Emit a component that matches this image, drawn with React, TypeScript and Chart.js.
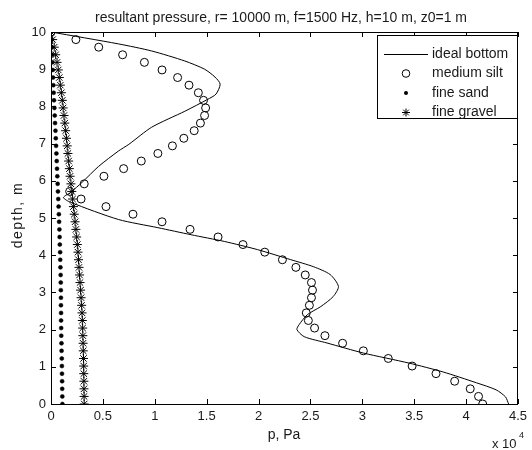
import React, { useEffect, useRef } from "react";
import { Chart, registerables } from "chart.js";

Chart.register(...registerables);

// depth, m (50 samples from 0 to 10)
const depths = [0, 0.204, 0.408, 0.612, 0.816, 1.02, 1.224, 1.429, 1.633, 1.837, 2.041, 2.245, 2.449, 2.653, 2.857, 3.061, 3.265, 3.469, 3.673, 3.878, 4.082, 4.286, 4.49, 4.694, 4.898, 5.102, 5.306, 5.51, 5.714, 5.918, 6.122, 6.327, 6.531, 6.735, 6.939, 7.143, 7.347, 7.551, 7.755, 7.959, 8.163, 8.367, 8.571, 8.776, 8.98, 9.184, 9.388, 9.592, 9.796, 10];

// pressure in units of 10^4 Pa
const siltP = [4.16, 4.12, 4.04, 3.89, 3.71, 3.48, 3.25, 3.01, 2.81, 2.64, 2.54, 2.48, 2.46, 2.49, 2.51, 2.52, 2.51, 2.45, 2.36, 2.23, 2.06, 1.85, 1.61, 1.34, 1.07, 0.79, 0.53, 0.29, 0.18, 0.32, 0.51, 0.7, 0.87, 1.03, 1.17, 1.28, 1.38, 1.44, 1.48, 1.49, 1.47, 1.42, 1.33, 1.22, 1.07, 0.9, 0.69, 0.46, 0.24, 0];

const sandP = [0.11, 0.109, 0.108, 0.107, 0.106, 0.105, 0.104, 0.102, 0.101, 0.099, 0.098, 0.097, 0.097, 0.096, 0.096, 0.095, 0.094, 0.093, 0.091, 0.089, 0.088, 0.085, 0.083, 0.081, 0.078, 0.076, 0.073, 0.07, 0.067, 0.064, 0.061, 0.058, 0.055, 0.052, 0.049, 0.046, 0.043, 0.039, 0.036, 0.033, 0.029, 0.026, 0.023, 0.02, 0.017, 0.014, 0.011, 0.008, 0.004, 0];

const gravelP = [0.32, 0.319, 0.318, 0.317, 0.316, 0.315, 0.313, 0.311, 0.309, 0.307, 0.305, 0.302, 0.299, 0.295, 0.29, 0.285, 0.28, 0.275, 0.27, 0.265, 0.26, 0.254, 0.247, 0.24, 0.232, 0.224, 0.216, 0.208, 0.2, 0.192, 0.184, 0.177, 0.17, 0.163, 0.156, 0.149, 0.141, 0.133, 0.125, 0.117, 0.109, 0.1, 0.09, 0.08, 0.07, 0.058, 0.045, 0.031, 0.016, 0];

const idealP = [0, 0.65, 0.97, 1.29, 1.48, 1.58, 1.63, 1.59, 1.51, 1.29, 0.97, 0.75, 0.65, 0.46, 0.3, 0.19, 0.12, 0.19, 0.65, 1.03, 1.35, 1.67, 1.99, 2.31, 2.53, 2.69, 2.77, 2.72, 2.6, 2.47, 2.39, 2.37, 2.44, 2.66, 3.01, 3.45, 3.78, 4.1, 4.29, 4.38, 4.41];
const idealDepth = [10, 9.68, 9.49, 9.22, 9.0, 8.79, 8.6, 8.33, 8.19, 7.87, 7.44, 6.98, 6.8, 6.39, 5.96, 5.69, 5.55, 5.42, 4.96, 4.74, 4.55, 4.37, 4.15, 3.88, 3.69, 3.48, 3.16, 2.89, 2.62, 2.4, 2.13, 2.0, 1.81, 1.64, 1.37, 1.1, 0.86, 0.57, 0.38, 0.19, 0.0];

const seriesNames = ["ideal bottom", "medium silt", "fine sand", "fine gravel"];
const xTicks = [0, 0.5, 1, 1.5, 2, 2.5, 3, 3.5, 4, 4.5];
const yTicks = [0, 1, 2, 3, 4, 5, 6, 7, 8, 9, 10];

const titleText = "resultant pressure, r= 10000 m, f=1500 Hz, h=10 m, z0=1 m";
const xLabel = "p, Pa";
const yLabel = "depth, m";

const FONT = '"Liberation Sans", Arial, sans-serif';
const TXT = "#1a1a1a";

const pts = (xs: number[], ys: number[]) => xs.map((x, i) => ({ x, y: ys[i] }));

const decorPlugin = {
  id: "decor",
  afterDraw(chart: any) {
    const ctx = chart.ctx;
    const a = chart.chartArea;
    const xs = chart.scales.x;
    const ys = chart.scales.y;
    ctx.save();
    // box
    ctx.strokeStyle = "#000";
    ctx.lineWidth = 1;
    ctx.strokeRect(Math.round(a.left) + 0.5, Math.round(a.top) + 0.5, Math.round(a.right - a.left) - 1, Math.round(a.bottom - a.top));
    // inward ticks
    const tl = 5;
    ctx.beginPath();
    xTicks.forEach((v) => {
      const px = Math.round(xs.getPixelForValue(v)) + 0.5;
      ctx.moveTo(px, a.bottom);
      ctx.lineTo(px, a.bottom - tl);
      ctx.moveTo(px, a.top);
      ctx.lineTo(px, a.top + tl);
    });
    yTicks.forEach((v) => {
      const py = Math.round(ys.getPixelForValue(v)) + 0.5;
      ctx.moveTo(a.left, py);
      ctx.lineTo(a.left + tl, py);
      ctx.moveTo(a.right, py);
      ctx.lineTo(a.right - tl, py);
    });
    ctx.stroke();

    // title
    ctx.fillStyle = TXT;
    ctx.font = `14px ${FONT}`;
    ctx.textAlign = "center";
    ctx.textBaseline = "alphabetic";
    ctx.fillText(titleText, 281, 22);
    // x label
    ctx.fillText(xLabel, 284, 439);
    // multiplier
    ctx.textAlign = "left";
    ctx.font = `13px ${FONT}`;
    ctx.fillText("x 10", 492, 448);
    ctx.font = `9px ${FONT}`;
    ctx.fillText("4", 519, 438);
    // y label
    ctx.font = `14px ${FONT}`;
    ctx.save();
    ctx.translate(22, 215);
    ctx.rotate(-Math.PI / 2);
    ctx.textAlign = "center";
    (ctx as any).letterSpacing = "1.5px";
    ctx.fillText(yLabel, 0, 0);
    (ctx as any).letterSpacing = "0px";
    ctx.restore();

    // legend
    const lx = 377.5, ly = 35.5, lw = 140, lh = 83;
    ctx.fillStyle = "#fff";
    ctx.fillRect(lx, ly, lw, lh);
    ctx.strokeStyle = "#000";
    ctx.strokeRect(lx, ly, lw, lh);
    const rows = [54, 73.5, 93, 112.5];
    const mx = 406;
    rows.forEach((ry, i) => {
      ctx.strokeStyle = "#000";
      ctx.fillStyle = "#000";
      ctx.lineWidth = 1;
      if (i === 0) {
        ctx.beginPath();
        ctx.moveTo(384, ry + 0.5);
        ctx.lineTo(428, ry + 0.5);
        ctx.stroke();
      } else if (i === 1) {
        ctx.beginPath();
        ctx.arc(mx, ry, 3.8, 0, Math.PI * 2);
        ctx.stroke();
      } else if (i === 2) {
        ctx.beginPath();
        ctx.arc(mx, ry, 2, 0, Math.PI * 2);
        ctx.fill();
      } else {
        const r = 4;
        ctx.beginPath();
        for (let k = 0; k < 4; k++) {
          const ang = (k * Math.PI) / 4;
          ctx.moveTo(mx - r * Math.cos(ang), ry - r * Math.sin(ang));
          ctx.lineTo(mx + r * Math.cos(ang), ry + r * Math.sin(ang));
        }
        ctx.stroke();
      }
      ctx.fillStyle = TXT;
      ctx.font = `14px ${FONT}`;
      ctx.textAlign = "left";
      ctx.textBaseline = "middle";
      ctx.fillText(seriesNames[i], 432, ry);
    });
    ctx.restore();
  },
};

export default function App() {
  const ref = useRef<HTMLCanvasElement | null>(null);
  useEffect(() => {
    document.body.style.margin = "0";
    const canvas = ref.current!;
    const chart = new Chart(canvas, {
      type: "scatter",
      data: {
        datasets: [
          {
            label: seriesNames[0],
            data: pts(idealP, idealDepth),
            showLine: true,
            borderColor: "#000",
            borderWidth: 1,
            pointRadius: 0,
            tension: 0.25,
            order: 4,
          },
          {
            label: seriesNames[1],
            data: pts(siltP, depths),
            showLine: false,
            pointStyle: "circle",
            pointRadius: 4,
            borderColor: "#000",
            borderWidth: 1,
            backgroundColor: "rgba(0,0,0,0)",
            order: 3,
          },
          {
            label: seriesNames[2],
            data: pts(sandP, depths),
            showLine: false,
            pointStyle: "circle",
            pointRadius: 2,
            borderColor: "#000",
            borderWidth: 0.5,
            backgroundColor: "#000",
            order: 2,
          },
          {
            label: seriesNames[3],
            data: pts(gravelP, depths),
            showLine: false,
            pointStyle: "star",
            pointRadius: 4.5,
            borderColor: "#000",
            borderWidth: 1,
            backgroundColor: "#000",
            order: 1,
          },
        ],
      },
      options: {
        animation: false,
        responsive: false,
        events: [],
        layout: { padding: { left: 0, right: 9, top: 32, bottom: 0 } },
        plugins: { legend: { display: false }, title: { display: false }, tooltip: { enabled: false } },
        scales: {
          x: {
            type: "linear",
            min: 0,
            max: 4.5,
            afterFit: (s: any) => { s.height = 46; },
            afterBuildTicks: (s: any) => { s.ticks = xTicks.map((v) => ({ value: v })); },
            grid: { display: false, drawTicks: false },
            border: { display: false },
            ticks: {
              padding: 5,
              color: TXT,
              font: { family: FONT, size: 13 },
              maxRotation: 0,
              callback: (v: any) => String(v),
            },
          },
          y: {
            type: "linear",
            min: 0,
            max: 10,
            afterFit: (s: any) => { s.width = 51; },
            afterBuildTicks: (s: any) => { s.ticks = yTicks.map((v) => ({ value: v })); },
            grid: { display: false, drawTicks: false },
            border: { display: false },
            ticks: {
              padding: 5,
              color: TXT,
              font: { family: FONT, size: 13 },
              callback: (v: any) => String(v),
            },
          },
        },
      },
      plugins: [decorPlugin],
    } as any);
    return () => chart.destroy();
  }, []);
  return (
    <div style={{ width: 532, height: 450, background: "#fff" }}>
      <canvas ref={ref} width={532} height={450} style={{ display: "block" }} />
    </div>
  );
}
